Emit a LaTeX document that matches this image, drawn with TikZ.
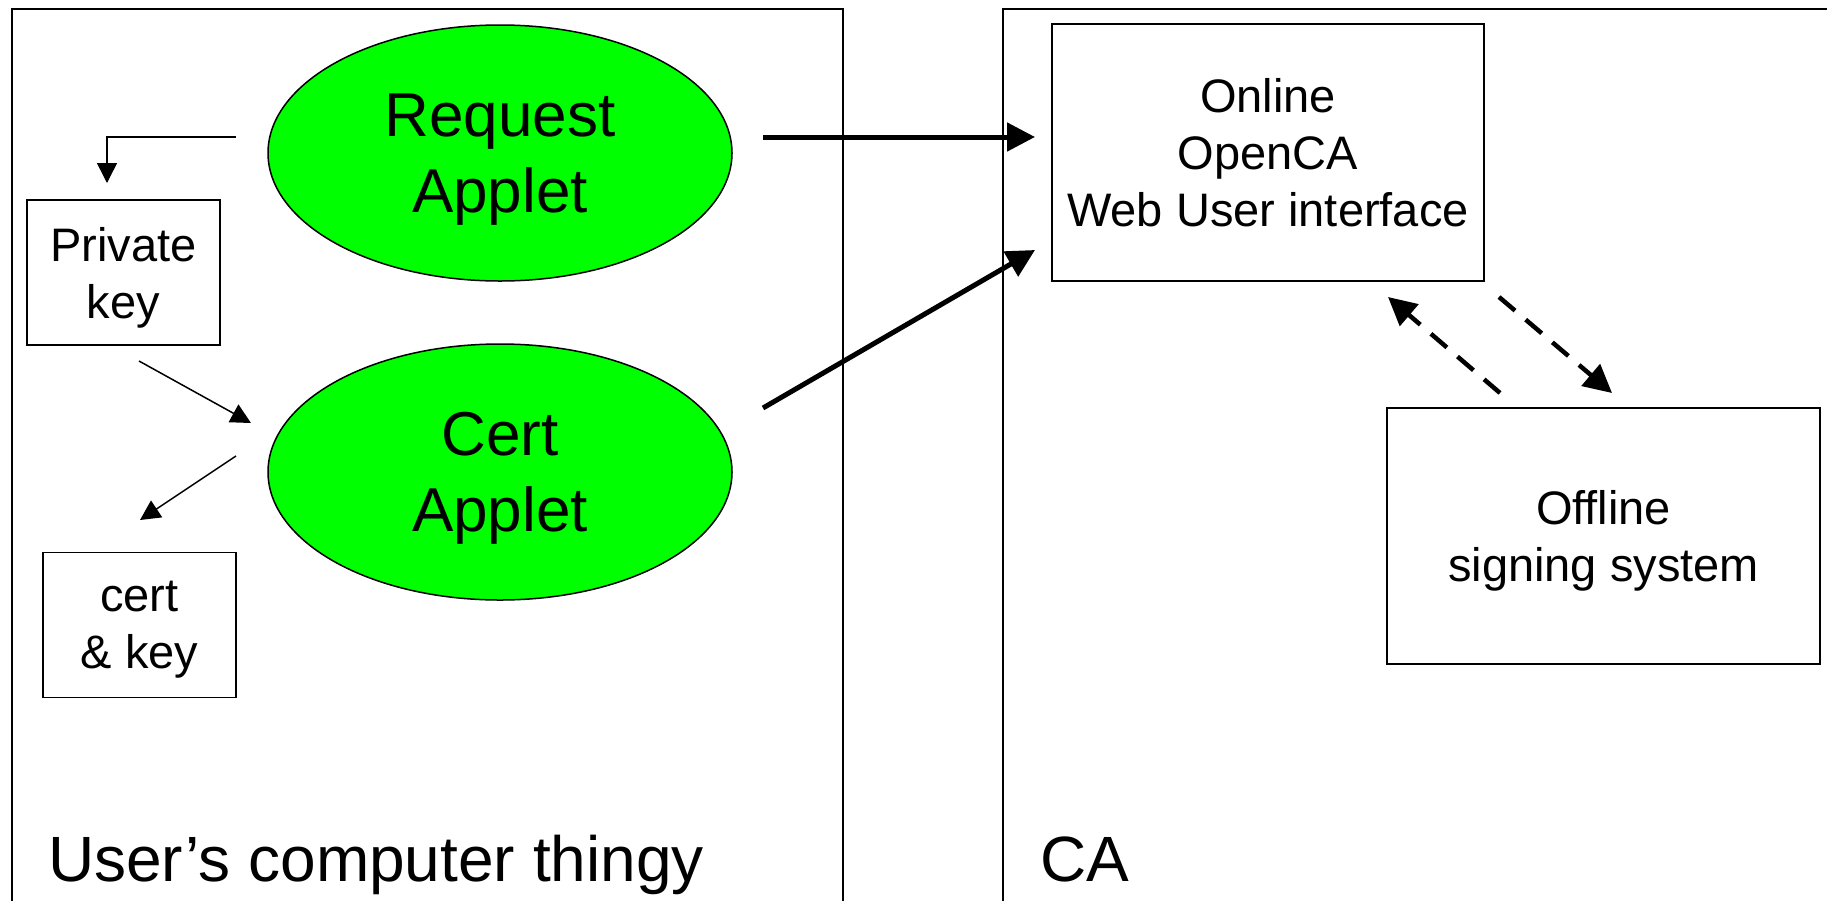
\documentclass[tikz,border=0pt]{standalone}
\usepackage{fontspec}
\setmainfont{Liberation Sans}
\usetikzlibrary{arrows.meta,shapes.geometric}

\definecolor{appletgreen}{HTML}{00FF00}
\tikzset{
  frame/.style={draw, line width=1.5pt},
  applet/.style={ellipse, draw, line width=1.5pt, fill=appletgreen,
    minimum width=464pt, minimum height=256pt, inner sep=0pt,
    align=center, text depth=0pt, font=\fontsize{62}{76}\selectfont},
  keybox/.style={rectangle, draw, line width=1.6pt, inner sep=0pt,
    minimum width=193pt, minimum height=145pt, text depth=0pt,
    align=center, font=\fontsize{47}{57}\selectfont},
  cabox/.style={rectangle, draw, line width=1.6pt, inner sep=0pt,
    text depth=0pt, align=center, font=\fontsize{47}{57}\selectfont},
  thin/.style={line width=1.5pt, -{Triangle[length=20pt,width=20pt]}},
  thick/.style={line width=5pt, -{Triangle[length=28pt,width=28pt]}},
  dashflow/.style={line width=4.5pt, dash pattern=on 21pt off 14pt,
    -{Triangle[length=28pt,width=28pt]}},
  zonelabel/.style={anchor=base west, inner sep=0pt,
    font=\fontsize{64}{76}\selectfont},
}

\begin{document}
\begin{tikzpicture}[x=1pt, y=-1pt]
  \useasboundingbox (0,0) rectangle (1827,900);
  \clip (0,0) rectangle (1827,900);
  \fill[white] (0,0) rectangle (1827,900);

  % the two zones
  \draw[frame] (12,9) rectangle (843,920);
  \draw[frame] (1003,9) rectangle (1850,920);
  \node[zonelabel] (userlbl) at (48,881) {User’s computer thingy};
  \node[zonelabel] (calbl) at (1040,881) {CA};

  % user side
  \node[applet] (req) at (500,153) {Request\\Applet};
  \node[applet] (cert) at (500,472) {Cert\\Applet};
  \node[keybox] (pkey) at (123.5,272.5) {Private\\key};
  \node[keybox] (certkey) at (139.5,625) {cert\\\& key};

  % CA side
  \node[cabox, minimum width=432pt, minimum height=257pt] (online)
    at (1268,152.5) {Online\\OpenCA\\Web User interface};
  \node[cabox, minimum width=433pt, minimum height=256pt] (offline)
    at (1603.5,536) {Offline\\signing system};

  % connector end points
  \coordinate (reqL)  at (236,137);
  \coordinate (pkeyT) at (107,183);
  \coordinate (pkeyB) at (139,361);
  \coordinate (certI) at (251,423);
  \coordinate (certO) at (236,456);
  \coordinate (ckT)   at (140,520);
  \coordinate (reqR)  at (763,137);
  \coordinate (onA)   at (1035,137);
  \coordinate (certR) at (763,408);
  \coordinate (onB)   at (1035,250);
  \coordinate (offA)  at (1500,393);
  \coordinate (onC)   at (1388,297);
  \coordinate (onD)   at (1499,297);
  \coordinate (offB)  at (1612,393);

  % key handling on the user side
  \draw[thin] (reqL) -| (pkeyT);
  \draw[thin] (pkeyB) -- (certI);
  \draw[thin] (certO) -- (ckT);

  % requests to the online CA
  \draw[thick] (reqR) -- (onA);
  \draw[thick] (certR) -- (onB);

  % exchange with the offline signer
  \draw[dashflow] (offA) -- (onC);
  \draw[dashflow] (onD) -- (offB);
\end{tikzpicture}
\end{document}
